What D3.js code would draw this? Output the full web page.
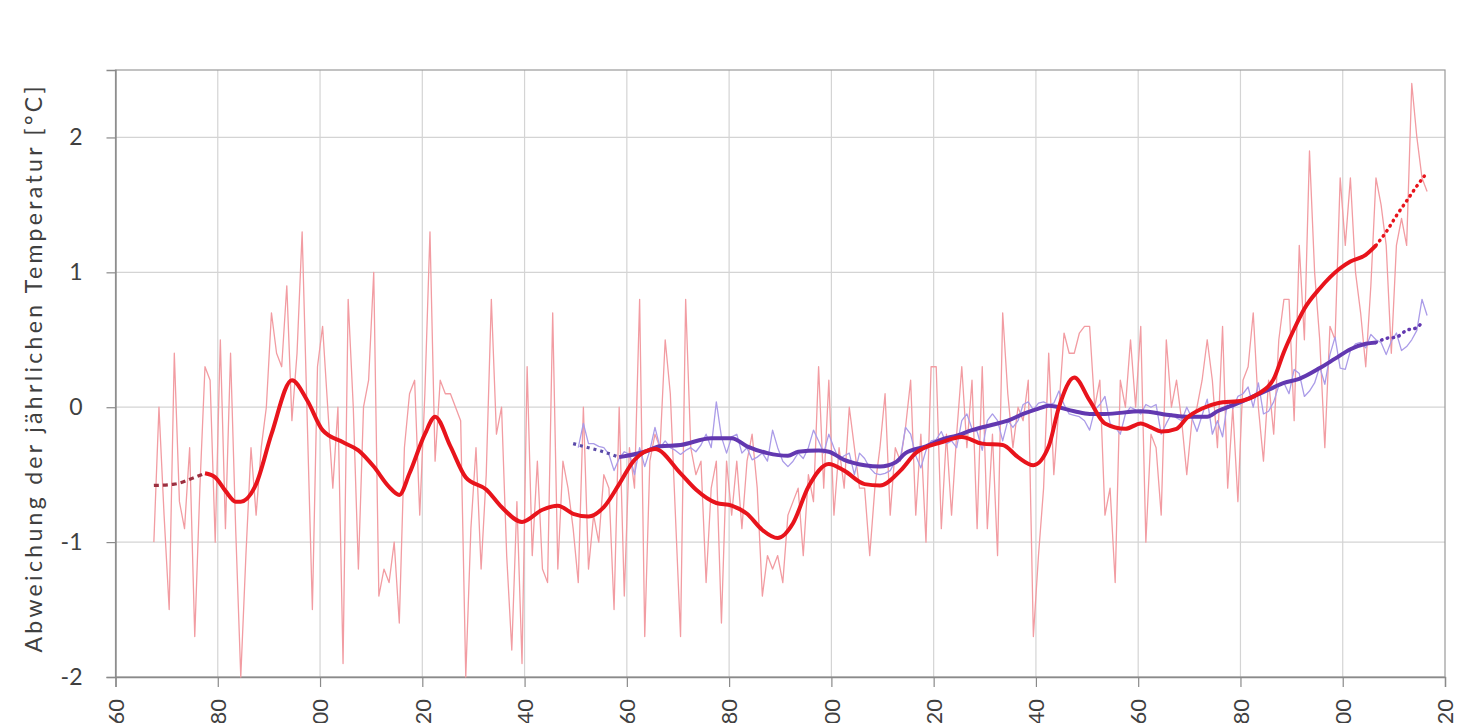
<!DOCTYPE html>
<html>
<head>
<meta charset="utf-8">
<script src="https://cdn.jsdelivr.net/npm/d3@7"></script>
<style>
  body { margin: 0; background: #fff; }
  svg text { font-family: Lato, "Open Sans", sans-serif; fill: #404040; }
</style>
</head>
<body>
<svg id="chart" width="1458" height="723"></svg>
<script>
// Jahreswerte (Abweichung in °C), rot = Station, lila = global
var redFirst = 1767;
var redAnnual = [
  -1.0, 0.0, -0.8,
  -1.5, 0.4, -0.7, -0.9, -0.3, -1.7, -0.6, 0.3, 0.2, -1.0,
  0.5, -0.9, 0.4, -0.9, -2.0, -1.1, -0.3, -0.8, -0.3, 0.0,
  0.7, 0.4, 0.3, 0.9, -0.1, 0.4, 1.3, -0.1, -1.5, 0.3,
  0.6, 0.0, -0.6, 0.0, -1.9, 0.8, 0.0, -1.2, 0.0, 0.2,
  1.0, -1.4, -1.2, -1.3, -1.0, -1.6, -0.3, 0.1, 0.2, -0.8,
  0.1, 1.3, -0.4, 0.2, 0.1, 0.1, 0.0, -0.1, -2.0, -0.9,
  -0.3, -1.2, -0.5, 0.8, -0.2, 0.0, -1.1, -1.8, -0.7, -1.9,
  0.3, -1.1, -0.4, -1.2, -1.3, 0.7, -1.2, -0.4, -0.6, -0.9,
  -1.3, 0.0, -1.2, -0.8, -1.0, -0.5, -0.6, -1.5, 0.0, -1.4,
  -0.3, -0.6, 0.8, -1.7, -0.4, -0.2, -0.3, 0.5, 0.1, -0.8,
  -1.7, 0.8, -0.3, -0.5, -0.4, -1.3, -0.6, -0.4, -1.6, -0.4,
  -0.8, -0.4, -0.9, -0.4, -0.2, -0.6, -1.4, -1.1, -1.2, -1.1,
  -1.3, -0.8, -0.7, -0.6, -1.1, -0.5, -0.7, 0.3, -0.6, 0.2,
  -0.8, -0.3, -0.6, 0.0, -0.3, -0.6, -0.6, -1.1, -0.6, -0.3,
  0.1, -0.8, -0.3, -0.4, -0.15, 0.2, -0.8, -0.2, -1.0, 0.3,
  0.3, -0.9, -0.2, -0.8, -0.2, 0.3, -0.3, 0.2, -0.9, 0.3,
  -0.9, -0.2, -1.1, 0.7, 0.1, -0.3, 0.0, -0.1, 0.2, -1.7,
  -1.1, -0.6, 0.4, -0.5, 0.0, 0.55, 0.4, 0.4, 0.55, 0.6,
  0.6, 0.0, 0.2, -0.8, -0.6, -1.3, 0.2, 0.0, 0.5, 0.0,
  0.6, -1.0, -0.2, -0.3, -0.8, 0.5, 0.0, 0.2, -0.1, -0.5,
  -0.1, 0.0, 0.2, 0.5, 0.2, -0.3, 0.6, -0.6, 0.0, -0.7,
  0.2, 0.3, 0.7, 0.0, -0.4, 0.2, -0.2, 0.5, 0.8, 0.8,
  -0.1, 1.2, 0.5, 1.9, 1.0, 0.5, -0.3, 0.6, 0.5, 1.7,
  1.2, 1.7, 1.0, 0.7, 0.3, 0.9, 1.7, 1.5, 1.2, 0.4,
  1.2, 1.4, 1.2, 2.4, 2.0, 1.7, 1.6
];

var purpleFirst = 1850;
var purpleAnnual = [
  -0.3, -0.12, -0.27, -0.27, -0.29, -0.3, -0.35, -0.47, -0.38, -0.33,
  -0.35, -0.5, -0.3, -0.44, -0.32, -0.15, -0.3, -0.25, -0.3, -0.32,
  -0.35, -0.32, -0.3, -0.33, -0.28, -0.2, -0.3, 0.04, -0.22, -0.34,
  -0.22, -0.2, -0.34, -0.3, -0.39, -0.37, -0.34, -0.4, -0.17, -0.3,
  -0.4, -0.44, -0.4, -0.34, -0.38, -0.3, -0.17, -0.25, -0.34, -0.2,
  -0.3, -0.39, -0.36, -0.34, -0.5, -0.34, -0.38, -0.45, -0.49, -0.5,
  -0.49, -0.47, -0.4, -0.38, -0.15, -0.2, -0.36, -0.45, -0.32, -0.25,
  -0.24, -0.18, -0.27, -0.25, -0.3, -0.1, -0.05, -0.16, -0.18, -0.32,
  -0.1, -0.05, -0.1, -0.25, -0.1, -0.15, -0.1, 0.02, 0.04, -0.02,
  0.03, 0.04, 0.02, 0.03, 0.12, 0.02, -0.05, -0.06, -0.07, -0.1,
  -0.17, -0.02, 0.02, 0.08, -0.12, -0.15, -0.2, -0.05, 0.0, -0.02,
  -0.05, 0.02, 0.0, 0.02, -0.2, -0.12, -0.05, -0.08, -0.1, 0.0,
  -0.08, -0.18, -0.06, 0.06, -0.2, -0.1, -0.22, 0.05, -0.01, 0.08,
  0.1, 0.15, 0.0, 0.18, -0.05, -0.03, 0.04, 0.16, 0.18, 0.1,
  0.28, 0.25, 0.08, 0.12, 0.18, 0.3, 0.17, 0.39, 0.52, 0.29,
  0.28, 0.42, 0.47, 0.48, 0.44, 0.54, 0.5, 0.48, 0.39, 0.49,
  0.55, 0.42, 0.45, 0.5, 0.57, 0.8, 0.68
];

// geglättete Kurven
var redSmoothYears = [1767, 1771, 1775, 1777, 1779, 1781, 1783, 1784, 1787, 1790, 1794, 1797, 1800, 1804, 1807, 1810,
  1813, 1815, 1817, 1820, 1822, 1825, 1828, 1832, 1835, 1839, 1843, 1846, 1849, 1852, 1855, 1858, 1861, 1865,
  1870, 1873, 1877, 1880, 1883, 1886, 1889, 1892, 1895, 1899, 1902, 1906, 1909, 1913, 1916, 1921, 1925, 1929,
  1933, 1936, 1939, 1942, 1944, 1947, 1950, 1953, 1957, 1960, 1962, 1964, 1967, 1969, 1972, 1975, 1980, 1983,
  1986, 1988, 1990, 1992, 1995, 1999, 2001, 2004, 2006, 2008, 2010, 2012, 2014, 2016];
var redSmooth = [-0.58, -0.57, -0.52, -0.49, -0.52, -0.62, -0.70, -0.70, -0.57, -0.2, 0.2, 0.05, -0.17, -0.26, -0.32, -0.44,
  -0.59, -0.65, -0.49, -0.2, -0.07, -0.29, -0.52, -0.61, -0.74, -0.85, -0.76, -0.73, -0.79, -0.81, -0.74, -0.57, -0.39, -0.31,
  -0.49, -0.61, -0.71, -0.73, -0.79, -0.91, -0.97, -0.86, -0.59, -0.42, -0.47, -0.57, -0.58, -0.47, -0.34, -0.26, -0.22, -0.27,
  -0.28, -0.37, -0.43, -0.29, 0.0, 0.22, 0.05, -0.12, -0.16, -0.12, -0.15, -0.18, -0.16, -0.08, -0.01, 0.03, 0.05, 0.1,
  0.21, 0.41, 0.58, 0.73, 0.88, 1.03, 1.08, 1.13, 1.2, 1.3, 1.42, 1.53, 1.64, 1.74];
var redSolid = [1777, 2006];

var purpleSmoothYears = [1849, 1852, 1854, 1858, 1863, 1866, 1870, 1876, 1880, 1883, 1887, 1891, 1893, 1897, 1899, 1902,
  1906, 1909, 1912, 1914, 1918, 1921, 1924, 1927, 1931, 1934, 1937, 1940, 1942, 1947, 1950, 1953, 1960, 1966, 1969,
  1973, 1975, 1979, 1982, 1985, 1988, 1991, 1995, 1998, 2001, 2004, 2006, 2008, 2010, 2012, 2014, 2015];
var purpleSmooth = [-0.27, -0.3, -0.32, -0.37, -0.33, -0.29, -0.28, -0.23, -0.23, -0.29, -0.34, -0.36, -0.33, -0.32, -0.33, -0.39,
  -0.43, -0.44, -0.41, -0.34, -0.29, -0.24, -0.21, -0.17, -0.13, -0.1, -0.05, -0.01, 0.01, -0.03, -0.05, -0.05, -0.03, -0.06, -0.07,
  -0.07, -0.03, 0.03, 0.08, 0.13, 0.18, 0.21, 0.29, 0.36, 0.43, 0.47, 0.48, 0.51, 0.52, 0.57, 0.59, 0.63];
var purpleSolid = [1858, 2006];

var xTicks = [1760, 1780, 1800, 1820, 1840, 1860, 1880, 1900, 1920, 1940, 1960, 1980, 2000, 2020];
var yTicks = [-2, -1, 0, 1, 2];
var yTitle = "Abweichung der jährlichen Temperatur [°C]";

var svg = d3.select("#chart");
var plotLeft = 115.5, plotRight = 1445, plotTop = 70, plotBottom = 677;

var x = d3.scaleLinear().domain([1760, 2020]).range([plotLeft, plotRight]);
var y = d3.scaleLinear().domain([-2, 2.5]).range([plotBottom, plotTop]);

// gitter
svg.append("g").selectAll("line").data([-1, 0, 1, 2]).enter().append("line")
  .attr("x1", plotLeft).attr("x2", plotRight)
  .attr("y1", function(d) { return y(d); }).attr("y2", function(d) { return y(d); })
  .attr("stroke", "#d4d4d4").attr("stroke-width", 1.2);
svg.append("g").selectAll("line").data(xTicks.slice(1, -1)).enter().append("line")
  .attr("y1", plotTop).attr("y2", plotBottom)
  .attr("x1", function(d) { return x(d); }).attr("x2", function(d) { return x(d); })
  .attr("stroke", "#d4d4d4").attr("stroke-width", 1.2);

svg.append("rect").attr("x", plotLeft).attr("y", plotTop)
  .attr("width", plotRight - plotLeft).attr("height", plotBottom - plotTop)
  .attr("fill", "none").attr("stroke", "#9a9a9a").attr("stroke-width", 1.2);

// achsen
var yAxis = svg.append("g").attr("transform", "translate(" + plotLeft + ",0)")
  .call(d3.axisLeft(y).tickValues(yTicks).tickSize(9).tickPadding(24)
    .tickFormat(function(d) { return String(d); }));
yAxis.select(".domain").attr("stroke", "#8a8a8a").attr("stroke-width", 1.4);
yAxis.selectAll(".tick line").attr("stroke", "#8a8a8a").attr("stroke-width", 1.2);
yAxis.selectAll("text").style("font-size", "23px").attr("fill", "#404040");

var xAxis = svg.append("g").attr("transform", "translate(0," + plotBottom + ")")
  .call(d3.axisBottom(x).tickValues(xTicks).tickSize(10).tickFormat(function(d) { return String(d); }));
xAxis.select(".domain").attr("stroke", "#8a8a8a").attr("stroke-width", 1.4);
xAxis.selectAll(".tick line").attr("stroke", "#8a8a8a").attr("stroke-width", 1.2);
xAxis.selectAll("text")
  .attr("transform", "rotate(-90)")
  .attr("x", -22).attr("y", 0).attr("dy", "0.35em")
  .style("text-anchor", "end").style("font-size", "22px").attr("fill", "#404040");

svg.append("text")
  .attr("transform", "translate(42," + (y(0.25) - 4) + ") rotate(-90)")
  .attr("text-anchor", "middle")
  .attr("textLength", 566).attr("lengthAdjust", "spacing")
  .style("font-size", "23px")
  .text(yTitle);

// linien
var annualLine = d3.line()
  .x(function(d) { return x(d[0] + 0.5); })
  .y(function(d) { return y(d[1]); });
var smoothLine = d3.line()
  .x(function(d) { return x(d[0] + 0.5); })
  .y(function(d) { return y(d[1]); })
  .curve(d3.curveMonotoneX);

function pairs(first, vals) {
  return vals.map(function(v, i) { return [first + i, v]; });
}
function zipYears(years, vals) {
  return years.map(function(yr, i) { return [yr, vals[i]]; });
}

var plot = svg.append("g");

plot.append("path").datum(pairs(redFirst, redAnnual))
  .attr("d", annualLine).attr("fill", "none")
  .attr("stroke", "#f29ca2").attr("stroke-width", 1.3).attr("stroke-linejoin", "round");
plot.append("path").datum(pairs(purpleFirst, purpleAnnual))
  .attr("d", annualLine).attr("fill", "none")
  .attr("stroke", "#ab9ce8").attr("stroke-width", 1.3).attr("stroke-linejoin", "round");

function drawSmooth(years, vals, solid, col, startCol, startDash, width) {
  var pts = zipYears(years, vals);
  var head = pts.filter(function(p) { return p[0] <= solid[0]; });
  var mid = pts.filter(function(p) { return p[0] >= solid[0] && p[0] <= solid[1]; });
  var tail = pts.filter(function(p) { return p[0] >= solid[1]; });
  plot.append("path").datum(head).attr("d", smoothLine).attr("fill", "none")
    .attr("stroke", startCol).attr("stroke-width", width - 0.8)
    .attr("stroke-dasharray", startDash);
  plot.append("path").datum(mid).attr("d", smoothLine).attr("fill", "none")
    .attr("stroke", col).attr("stroke-width", width).attr("stroke-linejoin", "round");
  plot.append("path").datum(tail).attr("d", smoothLine).attr("fill", "none")
    .attr("stroke", col).attr("stroke-width", width - 0.5)
    .attr("stroke-linecap", "round").attr("stroke-dasharray", "0.5,5.5");
}

drawSmooth(purpleSmoothYears, purpleSmooth, purpleSolid, "#6238b0", "#5a4aa8", "3,4", 4);
drawSmooth(redSmoothYears, redSmooth, redSolid, "#e8141c", "#9c3040", "5,4", 4);
</script>
</body>
</html>
